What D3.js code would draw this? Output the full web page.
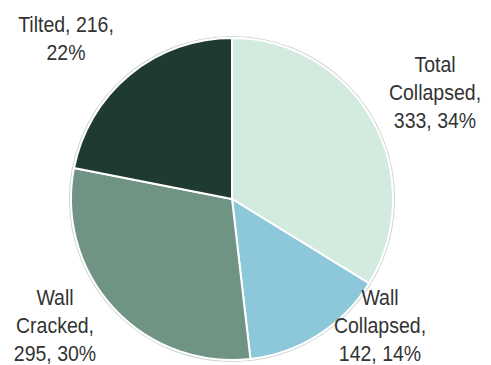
<!DOCTYPE html>
<html>
<head>
<meta charset="utf-8">
<script src="https://cdn.jsdelivr.net/npm/d3@7"></script>
<style>
  html, body { margin: 0; padding: 0; background: #fff; }
  svg { display: block; }
</style>
</head>
<body>
<svg id="chart" width="491" height="365"></svg>
<script>
// Damage categories and building counts
const categories = ["Total Collapsed", "Wall Collapsed", "Wall Cracked", "Tilted"];
const counts = [333, 142, 295, 216];
const percents = [34, 14, 30, 22];
const labelLines = [
  ["Total", "Collapsed,", "333, 34%"],
  ["Wall", "Collapsed,", "142, 14%"],
  ["Wall", "Cracked,", "295, 30%"],
  ["Tilted, 216,", "22%"]
];

const colors = ["#d3eadf", "#8cc8da", "#6f9484", "#1f3a30"];
// label block anchors (centre x, first baseline y)
const labelPos = [[435, 72], [380, 305], [55, 305], [66, 32]];

const W = 491, H = 365;
const cx = 232, cy = 199, R = 161;

const svg = d3.select("#chart");
const g = svg.append("g").attr("transform", `translate(${cx},${cy})`);

const color = d3.scaleOrdinal().domain(categories).range(colors);

const pie = d3.pie().sort(null).value(d => d.count);
const data = categories.map((c, i) => ({ name: c, count: counts[i], pct: percents[i] }));
const arcs = pie(data);
const arc = d3.arc().innerRadius(0).outerRadius(R);

// thin grey rim around the pie
g.append("circle")
  .attr("r", R + 1.5)
  .attr("fill", "none")
  .attr("stroke", "#cfd6d3")
  .attr("stroke-width", 1.2);

g.selectAll("path.slice")
  .data(arcs)
  .join("path")
  .attr("class", "slice")
  .attr("d", arc)
  .attr("fill", d => color(d.data.name))
  .attr("stroke", "#ffffff")
  .attr("stroke-width", 2)
  .attr("stroke-linejoin", "round");

// data labels (slightly tall, narrow lettering)
const lineH = 28;
const sy = 1.16;
const lab = svg.selectAll("text.lab")
  .data(arcs)
  .join("text")
  .attr("class", "lab")
  .attr("text-anchor", "middle")
  .attr("font-family", "'Liberation Sans', Arial, sans-serif")
  .attr("font-size", 19.5)
  .attr("fill", "#333333")
  .attr("transform", (d, i) => `translate(${labelPos[i][0]},${labelPos[i][1]}) scale(1,${sy})`);

lab.each(function(d, i) {
  const t = d3.select(this);
  labelLines[i].forEach((s, k) => {
    t.append("tspan")
      .attr("x", 0)
      .attr("y", k * lineH / sy)
      .text(s);
  });
});
</script>
</body>
</html>
